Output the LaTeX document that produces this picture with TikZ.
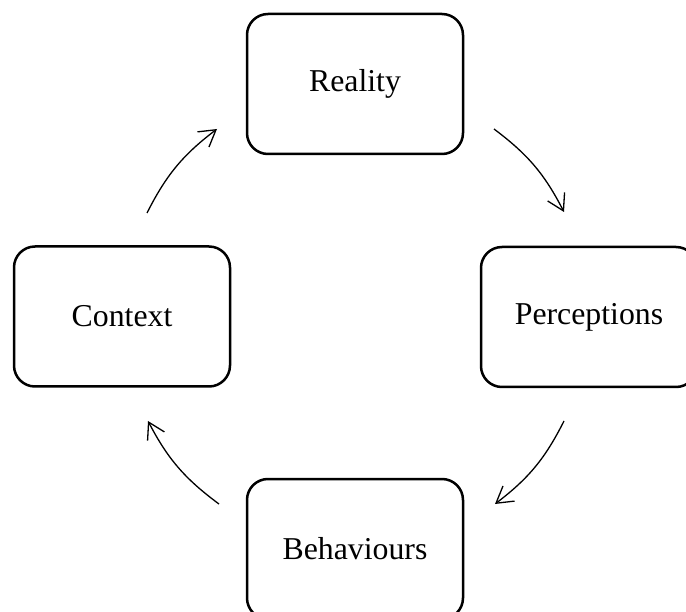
\documentclass[tikz,border=0pt]{standalone}
\usepackage{fontspec}
\setmainfont{Liberation Serif}
\usetikzlibrary{arrows.meta}
\tikzset{
  box/.style={draw, line width=2.5pt, rounded corners=21pt, minimum width=216pt, minimum height=140pt, inner sep=0pt, font=\fontsize{31.8pt}{36pt}\selectfont},
  cyc/.style={line width=1.3pt, -{Straight Barb[length=16pt,width=19pt]}, bend left=13}
}
\begin{document}
\begin{tikzpicture}[x=1pt,y=-1pt]
\useasboundingbox (0,0) rectangle (686,612);
\clip (0,0) rectangle (686,612);
\node[box] (R) at (355,84) {Reality};
\node[box] (P) at (589,317) {Perceptions};
\node[box] (B) at (355,549) {Behaviours};
\node[box] (C) at (122,316.5) {Context};
\coordinate (a1s) at (494,129);
\coordinate (a1e) at (564,212);
\coordinate (a2s) at (564,421);
\coordinate (a2e) at (495,504);
\coordinate (a3s) at (219,504);
\coordinate (a3e) at (148,421);
\coordinate (a4s) at (147,213);
\coordinate (a4e) at (217,129);
\draw[cyc] (a1s) to (a1e);
\draw[cyc] (a2s) to (a2e);
\draw[cyc] (a3s) to (a3e);
\draw[cyc] (a4s) to (a4e);
\end{tikzpicture}
\end{document}
